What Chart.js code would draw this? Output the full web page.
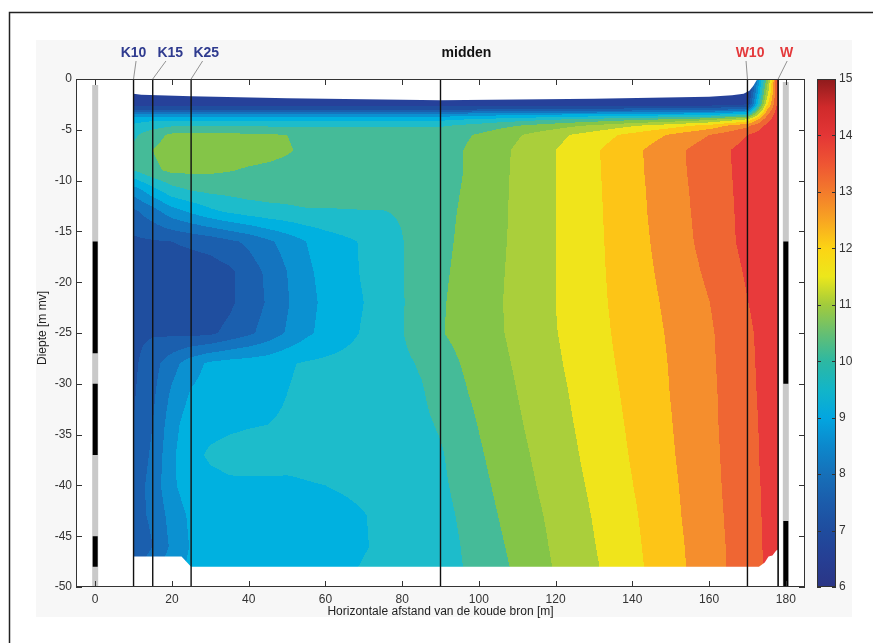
<!DOCTYPE html>
<html>
<head>
<meta charset="utf-8">
<script src="https://cdn.jsdelivr.net/npm/chart.js@4.4.1/dist/chart.umd.min.js"></script>
<style>
  html, body { margin: 0; padding: 0; background: #fff; }
  #wrap { width: 873px; height: 643px; }
</style>
</head>
<body>
<div id="wrap"><canvas id="chart" width="873" height="643"></canvas></div>
<script>
// grid columns: horizontal distance from the cold well [m]
const gridX = [10, 15, 20, 25, 30, 35, 40, 45, 50, 55, 60, 65, 70, 75, 80, 85, 90,
               100, 110, 120, 130, 140, 150, 160, 170, 175, 178];
// grid rows: depth [m mv]
const gridDepth = [0, -1.5, -2.5, -3, -3.5, -4, -4.6, -5.5, -7, -9, -11, -13, -16, -19,
                   -22, -25, -28, -31, -34, -37, -40, -43, -46, -48];

// temperature per row, same order as gridX
const t_0   = [6.3,6.3,6.3,6.3,6.3,6.3,6.3,6.3,6.3,6.3,6.3,6.3,6.3,6.3,6.3,6.3,6.3, 6.3,6.3,6.3,6.3,6.3,6.3,6.3, 6.3,10.6,13.7];
const t_1_5 = [6.6,6.6,6.6,6.6,6.6,6.6,6.6,6.6,6.6,6.6,6.6,6.6,6.6,6.6,6.6,6.6,6.6, 6.6,6.6,6.6,6.6,6.6,6.6,6.6, 6.6,11.2,13.7];
const t_2_5 = [6.75,6.75,6.75,6.75,6.75,6.75,6.75,6.75,6.75,6.75,6.75,6.75,6.75,6.75,6.75,6.75,6.75, 6.75,6.75,6.75,6.75,6.75,6.75,6.75, 7.0,11.8,13.75];
const t_3_0 = [7.4,7.4,7.4,7.4,7.4,7.4,7.4,7.4,7.4,7.4,7.4,7.4,7.4,7.4,7.4,7.4,7.4, 7.5,7.5,7.6,7.6,7.7,7.7,7.8, 8.2,12.4,13.8];
const t_3_5 = [8.7,8.7,8.7,8.7,8.7,8.7,8.7,8.7,8.7,8.7,8.7,8.7,8.7,8.7,8.7,8.7,8.7, 8.8,8.9,9.0,9.1,9.2,9.3,9.4, 9.8,12.9,13.85];
const t_4_0 = [9.3,9.4,9.4,9.4,9.4,9.4,9.4,9.4,9.4,9.4,9.4,9.4,9.4,9.4,9.4,9.4,9.4, 9.6,9.8,10.0,10.2,10.4,10.6,10.9, 11.6,13.3,13.9];
const t_4_6 = [9.6,9.8,9.95,9.95,9.95,9.95,9.95,9.95,9.95,9.95,9.95,9.95,9.95,9.95,9.95,9.95,9.95, 10.2,10.5,10.8,11.1,11.45,11.8,12.2, 12.9,13.6,13.9];
const t_5_5 = [9.9,10.3,10.6,10.65,10.65,10.62,10.58,10.55,10.5,10.35,10.25,10.25,10.25,10.25,10.25,10.25,10.25, 10.55,10.95,11.35,11.75,12.15,12.55,13.0, 13.5,13.8,13.95];
const t_7   = [10.1,10.5,10.75,10.8,10.8,10.75,10.7,10.65,10.55,10.4,10.3,10.3,10.3,10.3,10.3,10.3,10.28, 10.65,11.07,11.5,11.93,12.37,12.83,13.27, 13.68,13.85,13.95];
const t_9   = [10.0,10.4,10.6,10.6,10.58,10.52,10.45,10.4,10.35,10.3,10.28,10.28,10.28,10.28,10.27,10.26,10.25, 10.67,11.08,11.5,11.92,12.36,12.82,13.25, 13.67,13.85,13.95];
const t_11  = [8.7,9.3,9.8,10.0,10.1,10.15,10.2,10.2,10.2,10.25,10.25,10.27,10.28,10.28,10.28,10.29,10.3, 10.69,11.09,11.5,11.91,12.34,12.79,13.23, 13.66,13.84,13.94];
const t_13  = [7.9,8.3,8.8,9.1,9.4,9.6,9.75,9.85,9.9,9.95,9.95,9.97,9.98,9.99,10.05,10.2,10.35, 10.7,11.09,11.5,11.9,12.33,12.77,13.21, 13.65,13.82,13.92];
const t_16  = [7.4,7.45,7.5,7.6,7.7,7.9,8.1,8.4,8.7,9.0,9.25,9.4,9.55,9.75,9.98,10.2,10.38, 10.73,11.1,11.5,11.89,12.3,12.73,13.18, 13.64,13.8,13.9];
const t_19  = [7.35,7.3,7.2,7.2,7.25,7.4,7.75,8.1,8.5,8.9,9.15,9.35,9.55,9.75,9.98,10.22,10.42, 10.75,11.12,11.5,11.88,12.27,12.67,13.09, 13.56,13.73,13.84];
const t_22  = [7.35,7.3,7.15,7.15,7.2,7.4,7.75,8.05,8.45,8.85,9.1,9.3,9.5,9.75,9.97,10.2,10.45, 10.78,11.13,11.5,11.87,12.23,12.61,12.99, 13.49,13.68,13.79];
const t_25  = [7.4,7.45,7.4,7.35,7.4,7.65,7.9,8.2,8.55,8.9,9.15,9.35,9.55,9.75,9.98,10.25,10.47, 10.76,11.12,11.48,11.84,12.2,12.56,12.93, 13.43,13.64,13.75];
const t_28  = [7.4,7.8,8.3,8.8,9.1,9.2,9.25,9.3,9.45,9.55,9.6,9.65,9.7,9.8,9.9,10.05,10.3, 10.69,11.06,11.43,11.8,12.16,12.53,12.91, 13.41,13.63,13.73];
const t_31  = [7.45,7.9,8.6,9.05,9.2,9.25,9.3,9.4,9.5,9.6,9.65,9.7,9.75,9.8,9.85,9.95,10.2, 10.61,11.0,11.37,11.75,12.12,12.51,12.89, 13.39,13.62,13.72];
const t_34  = [7.5,8.0,8.8,9.3,9.4,9.45,9.48,9.5,9.55,9.62,9.68,9.7,9.75,9.8,9.85,9.9,10.05, 10.52,10.94,11.32,11.7,12.08,12.48,12.88, 13.37,13.6,13.7];
const t_37  = [7.6,8.1,8.9,9.4,9.55,9.6,9.62,9.62,9.6,9.6,9.62,9.65,9.7,9.75,9.8,9.85,9.95, 10.44,10.87,11.26,11.65,12.04,12.45,12.86, 13.35,13.6,13.7];
const t_40  = [7.7,8.2,8.9,9.3,9.4,9.45,9.45,9.45,9.45,9.48,9.5,9.55,9.6,9.7,9.75,9.8,9.9, 10.36,10.8,11.2,11.59,11.99,12.41,12.84, 13.33,13.58,13.68];
const t_43  = [7.8,8.1,8.7,9.1,9.25,9.3,9.3,9.3,9.3,9.3,9.35,9.4,9.48,9.6,9.7,9.75,9.82, 10.28,10.72,11.13,11.53,11.93,12.38,12.81, 13.31,13.57,13.67];
const t_46  = [7.6,8.0,8.6,9.05,9.2,9.25,9.25,9.28,9.3,9.32,9.35,9.4,9.48,9.55,9.62,9.7,9.78, 10.2,10.64,11.08,11.48,11.89,12.34,12.78, 13.29,13.56,13.66];
const t_48  = [7.8,8.3,8.8,9.1,9.25,9.3,9.3,9.32,9.35,9.38,9.4,9.45,9.52,9.58,9.65,9.72,9.8, 10.14,10.59,11.04,11.44,11.86,12.32,12.77, 13.28,13.55,13.65];

// outline of the modelled area (x, depth)
const outlineX = [10, 12, 25, 50, 90, 130, 160, 166, 169, 170.5, 171.5, 172.2, 172.6, 178,
                  178, 177.5, 176.5, 175.5, 174.5, 173, 25, 22.5, 10];
const outlineY = [-1.45, -1.55, -1.7, -1.9, -2.1, -1.95, -1.75, -1.6, -1.45, -1.15, -0.7, -0.25, 0, 0,
                  -46.3, -46.4, -46.9, -47.0, -47.6, -48, -48, -47, -47];

// monitoring lines
const lineNames = ['K10', 'K15', 'K25', 'midden', 'W10', 'W'];
const lineX = [10, 15, 25, 90, 170, 178];

// wells: casing and screens (depth ranges)
const coldWellX = 0;
const warmWellX = 180;
const coldCasing = [-0.6, -50];
const warmCasing = [-0.3, -50];
const coldScreens = [[-16, -27], [-30, -37], [-45, -48]];
const warmScreens = [[-16, -30], [-43.5, -50]];

const xTicks = [0, 20, 40, 60, 80, 100, 120, 140, 160, 180];
const yTicks = [0, -5, -10, -15, -20, -25, -30, -35, -40, -45, -50];
const cbarTicks = [6, 7, 8, 9, 10, 11, 12, 13, 14, 15];

// contour levels every 0.5 degree from 6
const levelMin = 6, levelStep = 0.5;
const bandColors = ['#2c3b8e', '#26419a', '#1f4e9f', '#1b5fae', '#1474bf', '#0b91d1', '#00b1e0',
  '#1dbccb', '#45bb98', '#84c548', '#aacf3b', '#f0e41b', '#fdc517', '#f58e2d', '#ef6633',
  '#e83a3b', '#d32a2e', '#a81e22'];
const cbarStops = [[6, '#2b3585'], [6.5, '#263f94'], [7, '#1f4c9e'], [7.5, '#1b5cab'], [8, '#1670b9'],
  [8.5, '#0c88cc'], [9, '#03a6e0'], [9.5, '#12b5c8'], [10, '#2db8a2'], [10.5, '#66bf72'],
  [11, '#a2cb3c'], [11.5, '#ece71b'], [12, '#fcd414'], [12.5, '#f8a522'], [13, '#f37b2c'],
  [13.5, '#ee5533'], [14, '#e43636'], [14.5, '#d02a2b'], [15, '#8e1b1c']];

const temps = [t_0, t_1_5, t_2_5, t_3_0, t_3_5, t_4_0, t_4_6, t_5_5, t_7, t_9, t_11, t_13, t_16,
  t_19, t_22, t_25, t_28, t_31, t_34, t_37, t_40, t_43, t_46, t_48];

// label styling
const labelColors = ['#2f3b8f', '#2f3b8f', '#2f3b8f', '#111111', '#e43a3c', '#e43a3c'];
const labelDx = [0, 17.5, 15.2, 26, 2.6, 8.4];
const connectorDx = [2.5, -4.3, -3.7, null, -4, 0.6];

const FONT = "'Liberation Sans', Arial, Helvetica, sans-serif";
Chart.defaults.font.family = FONT;

function hexToRgb(h) {
  const n = parseInt(h.slice(1), 16);
  return [(n >> 16) & 255, (n >> 8) & 255, n & 255];
}

function findCell(arr, v, desc) {
  let i = 0;
  if (desc) {
    while (i < arr.length - 2 && v < arr[i + 1]) i++;
    let t = (arr[i] - v) / (arr[i] - arr[i + 1]);
    return [i, Math.max(0, Math.min(1, t))];
  }
  while (i < arr.length - 2 && v > arr[i + 1]) i++;
  let t = (v - arr[i]) / (arr[i + 1] - arr[i]);
  return [i, Math.max(0, Math.min(1, t))];
}

const backgroundPlugin = {
  id: 'background',
  beforeDraw(chart) {
    const ctx = chart.ctx, a = chart.chartArea;
    ctx.save();
    ctx.fillStyle = '#ffffff';
    ctx.fillRect(0, 0, chart.width, chart.height);
    ctx.fillStyle = '#f7f7f7';
    ctx.fillRect(36, 40, 816, 577);
    ctx.fillStyle = '#ffffff';
    ctx.fillRect(a.left, a.top, a.right - a.left, a.bottom - a.top);
    ctx.strokeStyle = '#222';
    ctx.lineWidth = 1.5;
    ctx.beginPath();
    ctx.moveTo(9.5, chart.height);
    ctx.lineTo(9.5, 12.5);
    ctx.lineTo(chart.width, 12.5);
    ctx.stroke();
    ctx.restore();
  }
};

// filled contours of the temperature grid
const fieldPlugin = {
  id: 'field',
  beforeDatasetsDraw(chart) {
    const ctx = chart.ctx, a = chart.chartArea;
    const xs = chart.scales.x, ys = chart.scales.y;
    const w = Math.round(a.right - a.left), h = Math.round(a.bottom - a.top);
    const off = document.createElement('canvas');
    off.width = w; off.height = h;
    const octx = off.getContext('2d');
    const img = octx.createImageData(w, h);
    const rgb = bandColors.map(hexToRgb);
    const colI = [], colT = [];
    for (let px = 0; px < w; px++) {
      const c = findCell(gridX, xs.getValueForPixel(a.left + px + 0.5), false);
      colI.push(c[0]); colT.push(c[1]);
    }
    for (let py = 0; py < h; py++) {
      const r = findCell(gridDepth, ys.getValueForPixel(a.top + py + 0.5), true);
      const r0 = temps[r[0]], r1 = temps[r[0] + 1], tj = r[1];
      for (let px = 0; px < w; px++) {
        const i = colI[px], ti = colT[px];
        const top = r0[i] * (1 - ti) + r0[i + 1] * ti;
        const bot = r1[i] * (1 - ti) + r1[i + 1] * ti;
        const t = top * (1 - tj) + bot * tj;
        let k = Math.floor((t - levelMin) / levelStep);
        k = Math.max(0, Math.min(rgb.length - 1, k));
        const o = (py * w + px) * 4;
        img.data[o] = rgb[k][0]; img.data[o + 1] = rgb[k][1]; img.data[o + 2] = rgb[k][2]; img.data[o + 3] = 255;
      }
    }
    octx.putImageData(img, 0, 0);
    ctx.save();
    ctx.beginPath();
    outlineX.forEach((x, n) => {
      const px = xs.getPixelForValue(x), py = ys.getPixelForValue(outlineY[n]);
      if (n === 0) ctx.moveTo(px, py); else ctx.lineTo(px, py);
    });
    ctx.closePath();
    ctx.clip();
    ctx.drawImage(off, a.left, a.top);
    ctx.restore();
  }
};

// axis box with inward ticks on all four sides (matlab style)
const boxPlugin = {
  id: 'box',
  afterDatasetsDraw(chart) {
    const ctx = chart.ctx, a = chart.chartArea;
    const xs = chart.scales.x, ys = chart.scales.y;
    ctx.save();
    ctx.strokeStyle = '#333';
    ctx.lineWidth = 1;
    ctx.strokeRect(a.left + 0.5, a.top + 0.5, a.right - a.left - 1, a.bottom - a.top - 1);
    ctx.beginPath();
    xTicks.forEach(v => {
      const px = Math.round(xs.getPixelForValue(v)) + 0.5;
      ctx.moveTo(px, a.bottom); ctx.lineTo(px, a.bottom - 6);
      ctx.moveTo(px, a.top); ctx.lineTo(px, a.top + 6);
    });
    yTicks.forEach(v => {
      const py = Math.round(ys.getPixelForValue(v)) + 0.5;
      ctx.moveTo(a.left, py); ctx.lineTo(a.left + 6, py);
      ctx.moveTo(a.right, py); ctx.lineTo(a.right - 6, py);
    });
    ctx.stroke();
    ctx.restore();
  }
};

const annotatePlugin = {
  id: 'annotate',
  afterDraw(chart) {
    const ctx = chart.ctx, a = chart.chartArea;
    const xs = chart.scales.x, cb = chart.scales.cb;
    ctx.save();

    // line labels
    ctx.font = 'bold 14px ' + FONT;
    ctx.textAlign = 'center';
    ctx.textBaseline = 'alphabetic';
    lineNames.forEach((name, k) => {
      const lx = xs.getPixelForValue(lineX[k]);
      const cx = lx + labelDx[k];
      ctx.fillStyle = labelColors[k];
      ctx.fillText(name, cx, 56.7);
      if (connectorDx[k] !== null) {
        ctx.strokeStyle = '#777';
        ctx.lineWidth = 0.8;
        ctx.beginPath();
        ctx.moveTo(cx + connectorDx[k], 61);
        ctx.lineTo(lx, a.top);
        ctx.stroke();
      }
    });

    // axis titles
    ctx.fillStyle = '#222';
    ctx.font = '12px ' + FONT;
    ctx.textBaseline = 'middle';
    ctx.fillText('Horizontale afstand van de koude bron [m]', (a.left + a.right) / 2, 612);
    ctx.save();
    ctx.translate(43, 328);
    ctx.rotate(-Math.PI / 2);
    ctx.fillText('Diepte [m mv]', 0, 0);
    ctx.restore();

    // colour bar
    const x0 = 817, x1 = 836;
    const yTop = cb.getPixelForValue(15), yBot = cb.getPixelForValue(6);
    const grad = ctx.createLinearGradient(0, yBot, 0, yTop);
    cbarStops.forEach(s => grad.addColorStop((s[0] - 6) / 9, s[1]));
    ctx.fillStyle = grad;
    ctx.fillRect(x0, yTop, x1 - x0, yBot - yTop);
    ctx.strokeStyle = '#333';
    ctx.lineWidth = 1;
    ctx.strokeRect(x0 + 0.5, yTop + 0.5, x1 - x0 - 1, yBot - yTop - 1);
    ctx.beginPath();
    cbarTicks.forEach(v => {
      const py = Math.round(cb.getPixelForValue(v)) + 0.5;
      ctx.moveTo(x0, py); ctx.lineTo(x0 + 4, py);
      ctx.moveTo(x1, py); ctx.lineTo(x1 - 4, py);
    });
    ctx.stroke();
    ctx.fillStyle = '#333';
    ctx.textAlign = 'left';
    ctx.font = '12px ' + FONT;
    cbarTicks.forEach(v => ctx.fillText(String(v), 839, cb.getPixelForValue(v)));
    ctx.restore();
  }
};

function vline(x, y0, y1, color, width, order) {
  return {
    data: [{ x: x, y: y0 }, { x: x, y: y1 }],
    showLine: true, borderColor: color, borderWidth: width, borderCapStyle: 'butt',
    pointRadius: 0, pointHoverRadius: 0, order: order
  };
}

const datasets = [];
lineX.forEach((x, k) => datasets.push(vline(x, 0, -50, '#111', k === 5 ? 0.9 : 1.4, 1)));
coldScreens.forEach(s => datasets.push(vline(coldWellX, s[0], s[1], '#000', 5, 2)));
warmScreens.forEach(s => datasets.push(vline(warmWellX, s[0], s[1], '#000', 5, 2)));
datasets.push(vline(coldWellX, coldCasing[0], coldCasing[1], '#c9c9c9', 6, 3));
datasets.push(vline(warmWellX, warmCasing[0], warmCasing[1], '#c9c9c9', 6, 3));

new Chart(document.getElementById('chart'), {
  type: 'scatter',
  data: { datasets: datasets },
  options: {
    responsive: false,
    animation: false,
    events: [],
    layout: { padding: { left: 0, top: 79, right: 68, bottom: 0 } },
    plugins: { legend: { display: false }, tooltip: { enabled: false } },
    scales: {
      x: {
        type: 'linear', min: -5, max: 185,
        afterBuildTicks: s => { s.ticks = xTicks.map(v => ({ value: v })); },
        afterFit: s => { s.height = 56; },
        grid: { display: false, drawTicks: false },
        border: { display: false },
        ticks: { color: '#333', font: { size: 12 }, padding: 5, maxRotation: 0 }
      },
      y: {
        type: 'linear', min: -50, max: 0,
        afterBuildTicks: s => { s.ticks = yTicks.map(v => ({ value: v })); },
        afterFit: s => { s.width = 76; },
        grid: { display: false, drawTicks: false },
        border: { display: false },
        ticks: { color: '#333', font: { size: 12 }, padding: 4 }
      },
      cb: { type: 'linear', position: 'right', min: 6, max: 15, display: false }
    }
  },
  plugins: [backgroundPlugin, fieldPlugin, boxPlugin, annotatePlugin]
});
</script>
</body>
</html>
